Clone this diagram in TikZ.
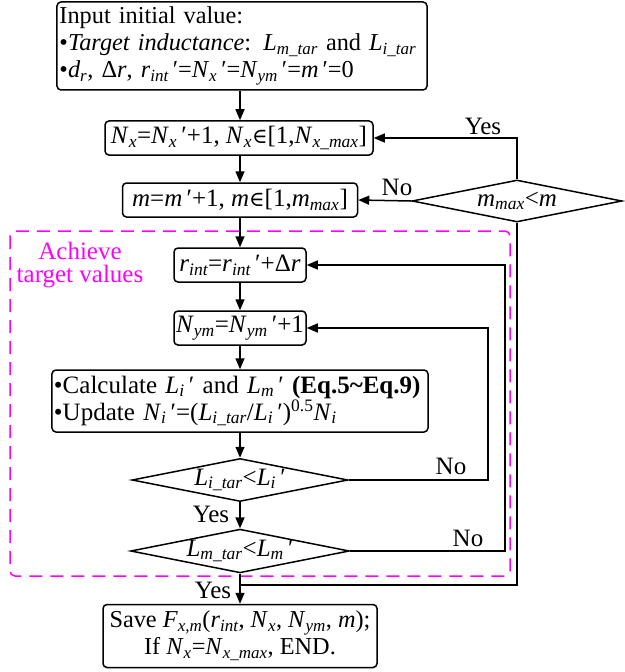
\documentclass[tikz,border=0pt]{standalone}
\usepackage{fontspec}
\setmainfont{Liberation Serif}
\newfontfamily\symf{DejaVu Serif}
\usetikzlibrary{shapes.geometric,arrows.meta}
\newcommand\sbs[1]{\textsubscript{\itshape #1}}
\newcommand\V[1]{\textit{#1}}
\newcommand\pr{\,′}
\newcommand\elem{{\symf\fontsize{21bp}{21bp}\selectfont ∈}}
\definecolor{magen}{RGB}{255,0,255}
\begin{document}
\begin{tikzpicture}[x=1bp,y=-1bp,
  font=\fontsize{25bp}{27bp}\selectfont,
  box/.style={draw, line width=1.5bp, rounded corners=4bp, inner sep=0pt, align=center},
  dia/.style={draw, diamond, aspect=5, line width=1.5bp, inner sep=0pt},
  arr/.style={line width=1.5bp, -{Triangle[length=11bp,width=9bp]}},
  ln/.style={line width=1.5bp},
  lbl/.style={inner sep=0pt}]
\useasboundingbox (0,0) rectangle (625,672);

% achieve target region
\draw[magen, line width=1.5bp, dash pattern=on 13bp off 8bp, rounded corners=5bp] (10,231) rectangle (510,576);
\node[lbl, text=magen, align=center, font=\fontsize{25bp}{23bp}\selectfont] (ach) at (80,265) {Achieve\\target values};

% boxes
\node[box, minimum width=370bp, minimum height=88bp, text width=365bp, inner xsep=2.5bp, align=left,
      font=\fontsize{24.3bp}{27bp}\selectfont] (b1) at (242,46)
  {\mbox{Input initial value:}\\
   \mbox{•\V{Target inductance}: \V{L}\sbs{m\_tar} and \V{L}\sbs{i\_tar}}\\
   \mbox{•\V{d}\sbs{r}, Δ\V{r}, \V{r}\sbs{int}\pr=\V{N}\sbs{x}\pr=\V{N}\sbs{ym}\pr=\V{m}\pr=0}};
\node[box, minimum width=268bp, minimum height=34bp] (b2) at (239,138)
  {\V{N}\sbs{x}=\V{N}\sbs{x}\pr+1, \V{N}\sbs{x}\elem[1,\V{N}\sbs{x\_max}]};
\node[box, minimum width=235bp, minimum height=34bp] (b3) at (240,200)
  {\V{m}=\V{m}\pr+1, \V{m}\elem[1,\V{m}\sbs{max}]};
\node[dia, minimum width=210bp, minimum height=42bp] (d1) at (517,201)
  {\V{m}\sbs{max}<\V{m}};
\node[box, minimum width=132bp, minimum height=34bp] (rint) at (240,265)
  {\V{r}\sbs{int}=\V{r}\sbs{int}\pr+Δ\V{r}};
\node[box, minimum width=132bp, minimum height=34bp] (nym) at (240,328)
  {\V{N}\sbs{ym}=\V{N}\sbs{ym}\pr+1};
\node[box, minimum width=376bp, minimum height=62bp, text width=372bp, inner xsep=2bp, align=left] (calc) at (240,401)
  {\mbox{•Calculate \V{L}\sbs{i}\pr\ and \V{L}\sbs{m}\pr\ \textbf{(Eq.5\textasciitilde Eq.9)}}\\
   \mbox{•Update \V{N}\sbs{i}\pr=(\V{L}\sbs{i\_tar}/\V{L}\sbs{i}\pr)\textsuperscript{0.5}\V{N}\sbs{i}}};
\node[dia, minimum width=216bp, minimum height=43bp] (d2) at (240,480)
  {\V{L}\sbs{i\_tar}<\V{L}\sbs{i}\pr};
\node[dia, minimum width=216bp, minimum height=42bp] (d3) at (240,551)
  {\V{L}\sbs{m\_tar}<\V{L}\sbs{m}\pr};
\node[box, minimum width=274bp, minimum height=63bp, font=\fontsize{24.3bp}{27bp}\selectfont] (save) at (240,636)
  {Save \V{F}\sbs{x,m}(\V{r}\sbs{int}, \V{N}\sbs{x}, \V{N}\sbs{ym}, \V{m});\\
   If \V{N}\sbs{x}=\V{N}\sbs{x\_max}, END.};

% helper coordinates
\coordinate (j) at (240,585);
\coordinate (c2) at (488,0);
\coordinate (c3) at (505,0);

% main flow
\draw[arr] (b1.south -| b3.north) -- (b3.north |- b2.north);
\draw[arr] (b2.south -| b3.north) -- (b3.north);
\draw[arr] (b3) -- (rint);
\draw[arr] (rint) -- (nym);
\draw[arr] (nym.south) -- (nym.south |- calc.north);
\draw[arr] (calc.south -| d2.north) -- (d2.north);
\draw[arr] (d2) -- (d3);
\draw[arr] (d3) -- (save);

% loops
\draw[arr] (d1.north) |- (b2.east);
\draw[arr] (d1.west) -- (b3.east);
\draw[arr] (d2.east) -- (d2.east -| c2) |- (nym.east);
\draw[arr] (d3.east) -- (d3.east -| c3) |- (rint.east);
\draw[ln] (d1.south) -- (d1.south |- j) -- (j);

% labels
\node[lbl] (ly1) at (483,126) {Yes};
\node[lbl] (ln1) at (397,187) {No};
\node[lbl] (ln2) at (451,466) {No};
\node[lbl] (ln3) at (468,538) {No};
\node[lbl] (ly2) at (211,514) {Yes};
\node[lbl] (ly3) at (213,590) {Yes};
\end{tikzpicture}
\end{document}
